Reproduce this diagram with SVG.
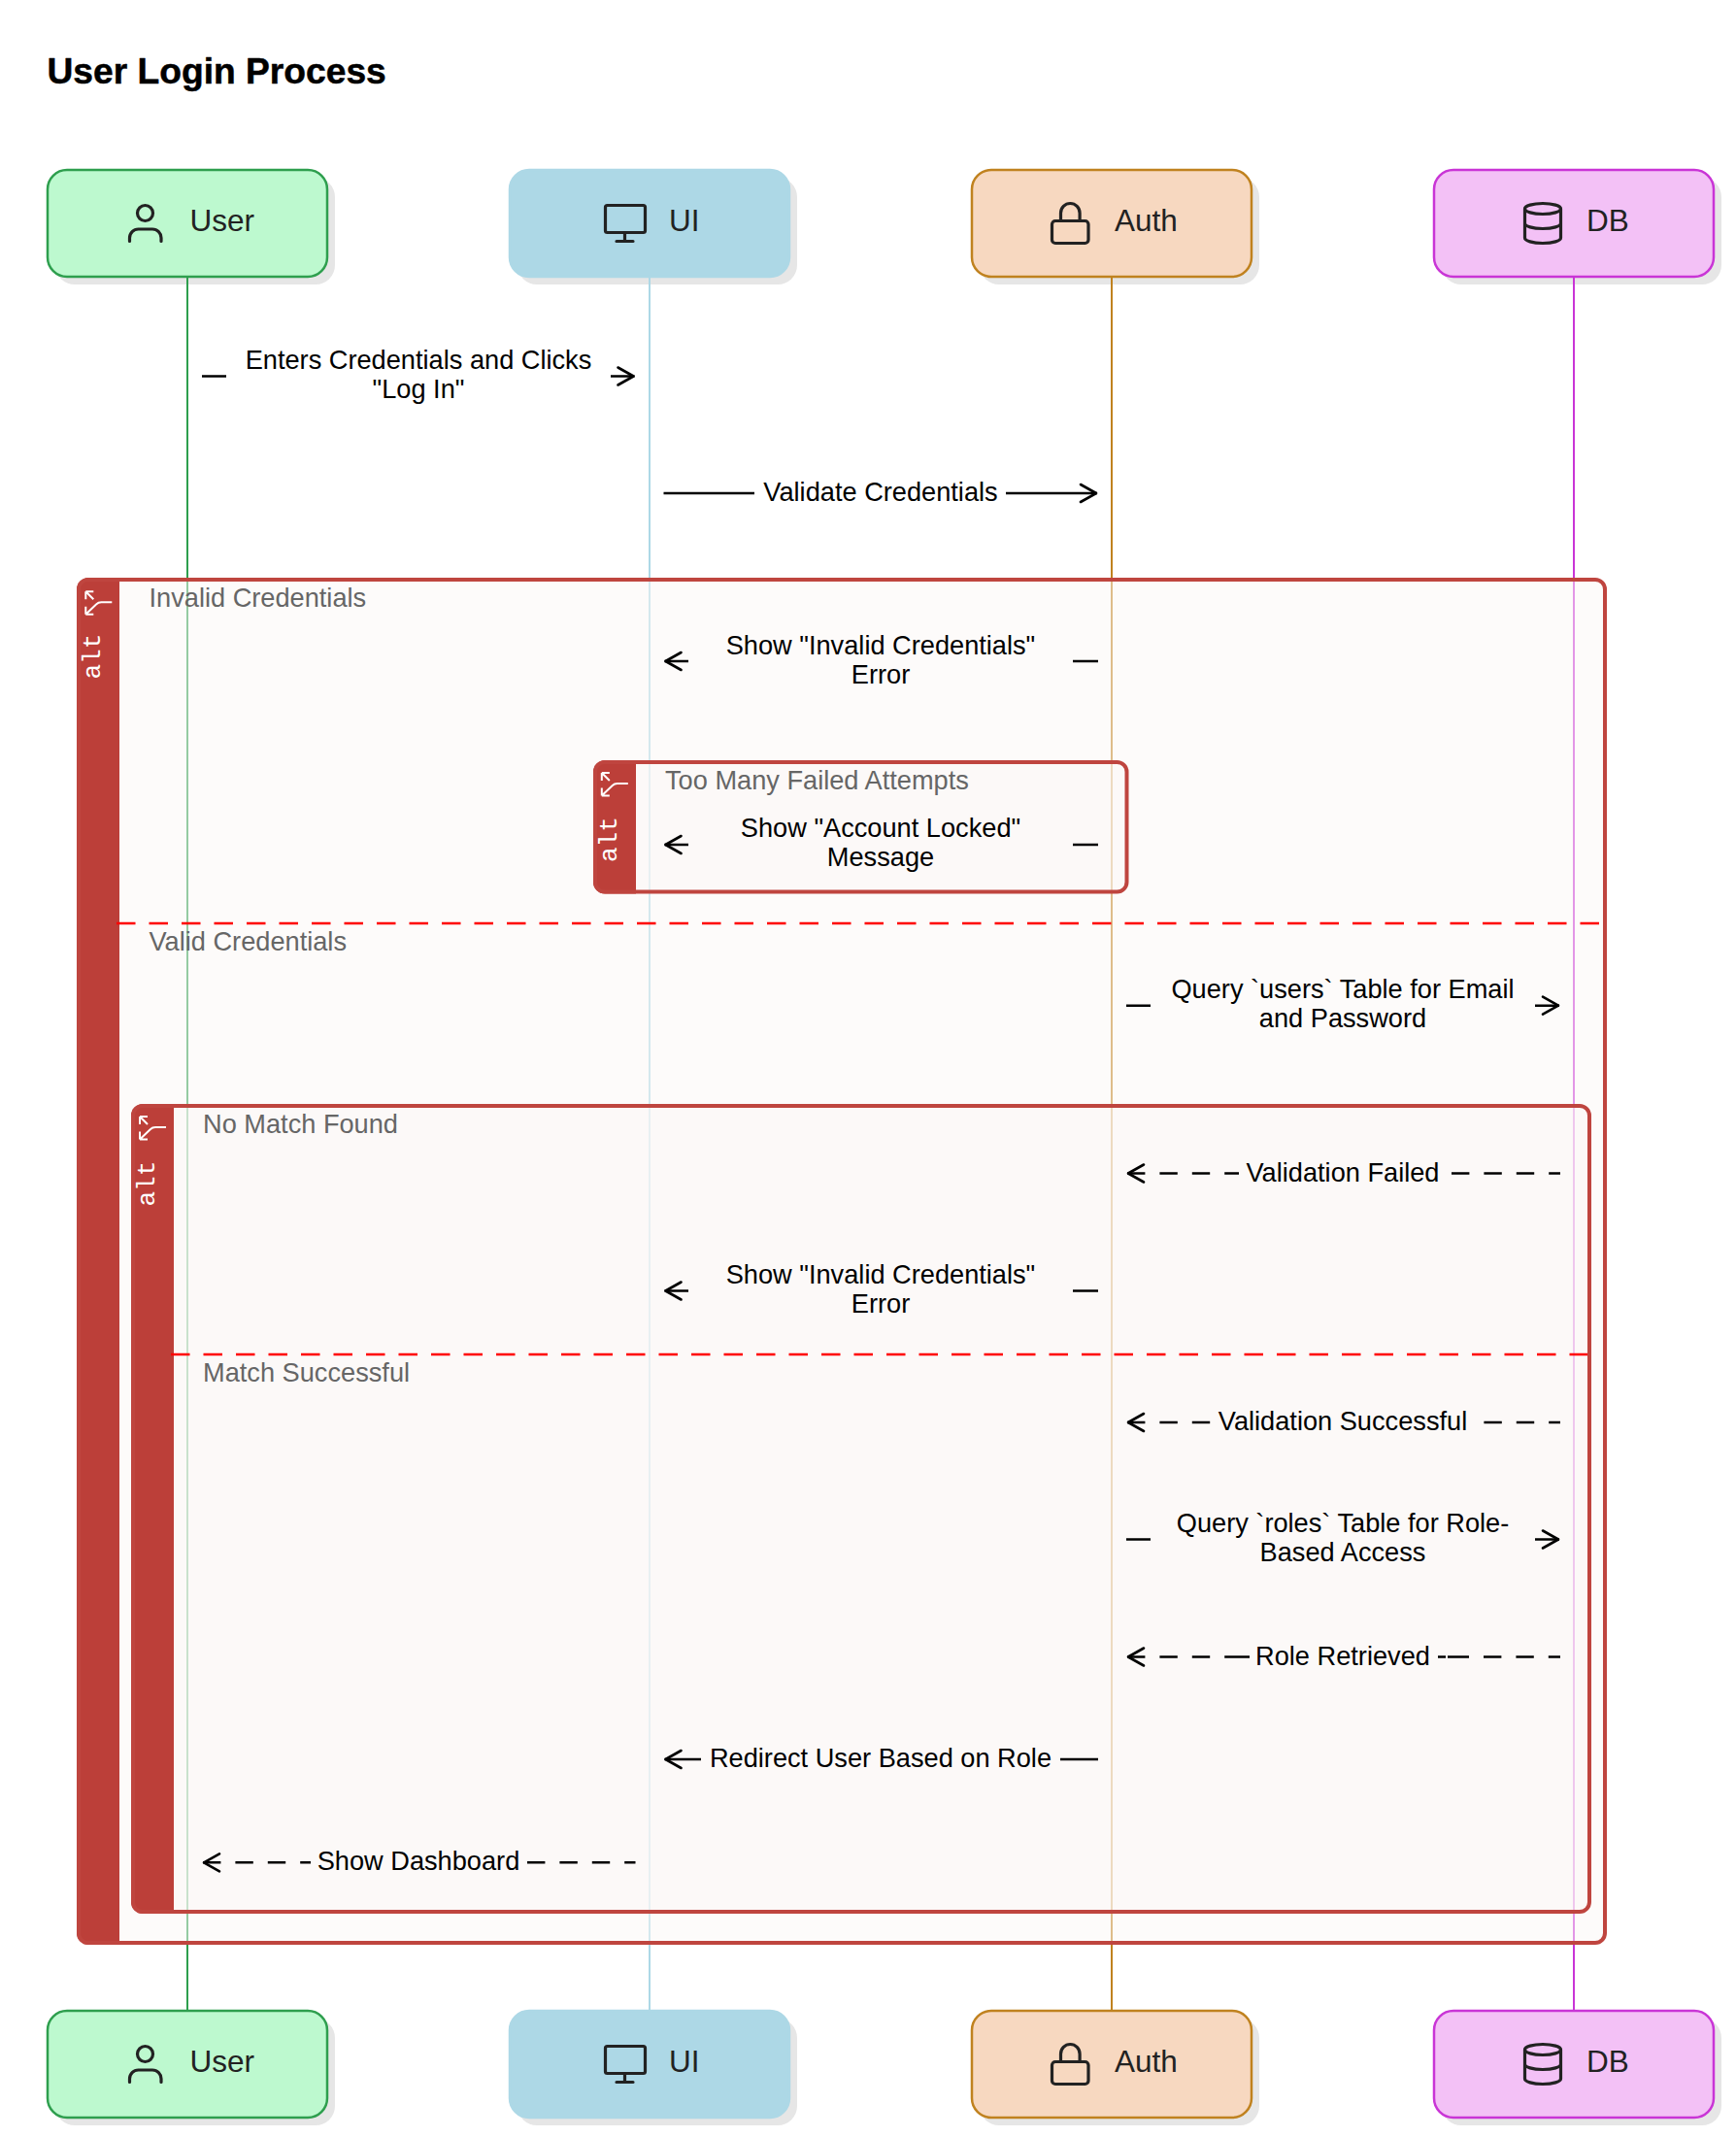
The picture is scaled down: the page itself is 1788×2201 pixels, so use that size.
<svg xmlns="http://www.w3.org/2000/svg" width="1788" height="2201" viewBox="0 0 1788 2201">
<style>
text{font-family:"Liberation Sans",Arial,sans-serif}
.title{font-size:37.2px;font-weight:700;fill:#000;stroke:#000;stroke-width:.5;stroke-linejoin:round}
.nlabel{font-size:31.500px;fill:#222}
.msg{font-size:27.200px;fill:#000;text-anchor:middle}
.flabel{font-size:27.200px;fill:#666}
.alt{font-family:"Liberation Mono","DejaVu Sans Mono",monospace;font-size:26px;fill:#fff}
.shadow{fill:#e6e6e6}
.ico{fill:none;stroke:#222;stroke-width:3.200;stroke-linecap:round;stroke-linejoin:round}
.life{stroke-width:2;fill:none}
.frame{fill:#fbf7f5;fill-opacity:.5;stroke:none}
.fborder{fill:none;stroke:#bf453f;stroke-width:4}
.bar{fill:#bc3f39}
.div{stroke:#f00;stroke-width:2.500;stroke-dasharray:19.500 14;fill:none}
.m{fill:none;stroke:#000;stroke-width:2.500}
.d{stroke-dasharray:18.400 15}
.bg0{fill:#fff}.bg1{fill:#fdfbfa}.bg2{fill:#fcf9f8}
.head{fill:none;stroke:#000;stroke-width:2.600;stroke-linecap:round;stroke-linejoin:round}
.branch{fill:none;stroke:#fff;stroke-width:2}
</style>
<defs>
<marker id="arrow" markerUnits="userSpaceOnUse" markerWidth="24" markerHeight="24" viewBox="-21 -12 24 24" refX="0" refY="0" orient="auto-start-reverse"><path class="head" d="M-17 -9L-1 0L-17 9"/></marker>
<g id="i-user" class="ico"><circle cx="149.500" cy="219.500" r="8"/><path d="M133.500 248.500v-3.500a9 9 0 0 1 9-9h14.500a9 9 0 0 1 9 9v3.500"/></g>
<g id="i-mon" class="ico"><rect x="623.500" y="211.500" width="41" height="28" rx="2"/><path d="M643.500 240v8M635 248.500h17"/></g>
<g id="i-lock" class="ico"><rect x="1083.500" y="227.500" width="37.500" height="23" rx="3.500"/><path d="M1092.500 227v-7.500a9.800 10 0 0 1 19.600 0v7.500"/></g>
<g id="i-db" class="ico"><ellipse cx="1589" cy="215" rx="18.500" ry="5.500"/><path d="M1570.500 215v30c0 3 8 5.500 18.500 5.500s18.500-2.500 18.500-5.500v-30M1570.500 230c0 3 8 5.500 18.500 5.500s18.500-2.500 18.500-5.500"/></g>
<path id="branch" d="M0 0L8 8M0 0h8M0 0v8M0 23.500h8M0 23.500v-8M0 23.500L11 13q2-2 5-2h11"/>
</defs>
<rect width="1788" height="2201" fill="#fff"/>
<text class="title" x="48.500" y="86">User Login Process</text>

<g id="node-user-top"><rect class="shadow" x="57" y="183" width="288" height="110" rx="20"/><rect x="49" y="175" width="288" height="110" rx="20" fill="#bdf9cf" stroke="#2e9f4e" stroke-width="2.500"/><use href="#i-user"/><text class="nlabel" x="195.500" y="238">User</text></g>
<g id="node-ui-top"><rect class="shadow" x="533" y="183" width="288" height="110" rx="20"/><rect x="525" y="175" width="288" height="110" rx="20" fill="#add8e6" stroke="#add8e6" stroke-width="2.500"/><use href="#i-mon"/><text class="nlabel" x="689" y="238">UI</text></g>
<g id="node-auth-top"><rect class="shadow" x="1009" y="183" width="288" height="110" rx="20"/><rect x="1001" y="175" width="288" height="110" rx="20" fill="#f7d8c0" stroke="#c0821f" stroke-width="2.500"/><use href="#i-lock"/><text class="nlabel" x="1148" y="238">Auth</text></g>
<g id="node-db-top"><rect class="shadow" x="1485" y="183" width="288" height="110" rx="20"/><rect x="1477" y="175" width="288" height="110" rx="20" fill="#f3c1f6" stroke="#c935d6" stroke-width="2.500"/><use href="#i-db"/><text class="nlabel" x="1634" y="238">DB</text></g>

<g id="node-user-bottom"><rect class="shadow" x="57" y="2079" width="288" height="110" rx="20"/><rect x="49" y="2071" width="288" height="110" rx="20" fill="#bdf9cf" stroke="#2e9f4e" stroke-width="2.500"/><use href="#i-user" y="1896"/><text class="nlabel" x="195.500" y="2134">User</text></g>
<g id="node-ui-bottom"><rect class="shadow" x="533" y="2079" width="288" height="110" rx="20"/><rect x="525" y="2071" width="288" height="110" rx="20" fill="#add8e6" stroke="#add8e6" stroke-width="2.500"/><use href="#i-mon" y="1896"/><text class="nlabel" x="689" y="2134">UI</text></g>
<g id="node-auth-bottom"><rect class="shadow" x="1009" y="2079" width="288" height="110" rx="20"/><rect x="1001" y="2071" width="288" height="110" rx="20" fill="#f7d8c0" stroke="#c0821f" stroke-width="2.500"/><use href="#i-lock" y="1896"/><text class="nlabel" x="1148" y="2134">Auth</text></g>
<g id="node-db-bottom"><rect class="shadow" x="1485" y="2079" width="288" height="110" rx="20"/><rect x="1477" y="2071" width="288" height="110" rx="20" fill="#f3c1f6" stroke="#c935d6" stroke-width="2.500"/><use href="#i-db" y="1896"/><text class="nlabel" x="1634" y="2134">DB</text></g>

<g id="lifelines">
<path class="life" stroke="#2e9f4e" d="M193 286V2070"/>
<path class="life" stroke="#add8e6" d="M669 286V2070"/>
<path class="life" stroke="#c0821f" d="M1145 286V2070"/>
<path class="life" stroke="#c935d6" d="M1621 286V2070"/>
</g>

<g id="frame-outer">
<rect class="frame" x="81" y="597" width="1572" height="1404" rx="10"/>
<path class="bar" d="M123 595H91a12 12 0 0 0-12 12V1991a12 12 0 0 0 12 12H123Z"/>
<rect class="fborder" x="81" y="597" width="1572" height="1404" rx="10"/>
<use href="#branch" class="branch" x="88.300" y="609.300"/>
<text class="alt" transform="translate(103 699.500) rotate(-90)">alt</text>
<text class="flabel" x="153.500" y="625">Invalid Credentials</text>
<path class="div" d="M120 951H1650"/>
<text class="flabel" x="153.500" y="979">Valid Credentials</text>
</g>

<g id="frame-locked">
<rect class="frame" x="613" y="785" width="547.500" height="133.500" rx="10"/>
<path class="bar" d="M655 783H623a12 12 0 0 0-12 12V908.500a12 12 0 0 0 12 12H655Z"/>
<rect class="fborder" x="613" y="785" width="547.500" height="133.500" rx="10"/>
<use href="#branch" class="branch" x="619.800" y="796"/>
<text class="alt" transform="translate(635 888) rotate(-90)">alt</text>
<text class="flabel" x="685" y="813">Too Many Failed Attempts</text>
</g>

<g id="frame-match">
<rect class="frame" x="137" y="1139" width="1500" height="830" rx="10"/>
<path class="bar" d="M179 1137H147a12 12 0 0 0-12 12V1959a12 12 0 0 0 12 12H179Z"/>
<rect class="fborder" x="137" y="1139" width="1500" height="830" rx="10"/>
<use href="#branch" class="branch" x="144" y="1150"/>
<text class="alt" transform="translate(159 1242.500) rotate(-90)">alt</text>
<text class="flabel" x="209" y="1167">No Match Found</text>
<path class="div" d="M176 1395H1635"/>
<text class="flabel" x="209" y="1423">Match Successful</text>
</g>

<g id="connectors">
<path class="m" d="M208 387.500H653.500" marker-end="url(#arrow)"/>
<rect class="bg0" x="233" y="360" width="396" height="60"/>
<text class="msg" x="431" y="379.500">Enters Credentials and Clicks</text><text class="msg" x="431" y="409.500">"Log In"</text>

<path class="m" d="M683.500 508H1130" marker-end="url(#arrow)"/>
<rect class="bg0" x="777" y="490" width="259" height="36"/>
<text class="msg" x="907" y="516">Validate Credentials</text>

<path class="m" d="M684.500 681H1131" marker-start="url(#arrow)"/>
<rect class="bg1" x="709" y="650" width="396" height="62"/>
<text class="msg" x="907" y="674">Show "Invalid Credentials"</text><text class="msg" x="907" y="703.500">Error</text>

<path class="m" d="M684.500 870H1131" marker-start="url(#arrow)"/>
<rect class="bg2" x="709" y="838" width="396" height="62"/>
<text class="msg" x="907" y="862">Show "Account Locked"</text><text class="msg" x="907" y="891.500">Message</text>

<path class="m" d="M1160 1035.700H1606" marker-end="url(#arrow)"/>
<rect class="bg1" x="1185" y="1004" width="396" height="62"/>
<text class="msg" x="1383" y="1027.500">Query `users` Table for Email</text><text class="msg" x="1383" y="1057.500">and Password</text>

<path class="m d" d="M1161 1208.500H1607" marker-start="url(#arrow)"/>
<rect class="bg2" x="1276" y="1190" width="215" height="36"/>
<text class="msg" x="1383" y="1216.500">Validation Failed</text>

<path class="m" d="M684.500 1329.500H1131" marker-start="url(#arrow)"/>
<rect class="bg2" x="709" y="1298" width="396" height="62"/>
<text class="msg" x="907" y="1322">Show "Invalid Credentials"</text><text class="msg" x="907" y="1351.500">Error</text>

<path class="m d" d="M1161 1465H1607" marker-start="url(#arrow)"/>
<rect class="bg2" x="1247" y="1447" width="273" height="36"/>
<text class="msg" x="1383" y="1473">Validation Successful</text>

<path class="m" d="M1160 1585.500H1606" marker-end="url(#arrow)"/>
<rect class="bg2" x="1185" y="1554" width="396" height="62"/>
<text class="msg" x="1383" y="1578">Query `roles` Table for Role-</text><text class="msg" x="1383" y="1607.500">Based Access</text>

<path class="m" style="stroke-dasharray:18.4 15 18.4 15 18.4 15 25.8 194 8 2 22 15 18.4 15 18.4 15 18.4 15" d="M1161 1706.500H1607" marker-start="url(#arrow)"/>
<text class="msg" x="1383" y="1714.500">Role Retrieved</text>

<path class="m" d="M684.500 1812H1131" marker-start="url(#arrow)"/>
<rect class="bg2" x="722" y="1794" width="370" height="36"/>
<text class="msg" x="907" y="1820">Redirect User Based on Role</text>

<path class="m d" d="M209 1918.300H654.500" marker-start="url(#arrow)"/>
<rect class="bg2" x="320" y="1900" width="223" height="36"/>
<text class="msg" x="431" y="1926">Show Dashboard</text>
</g>
</svg>
